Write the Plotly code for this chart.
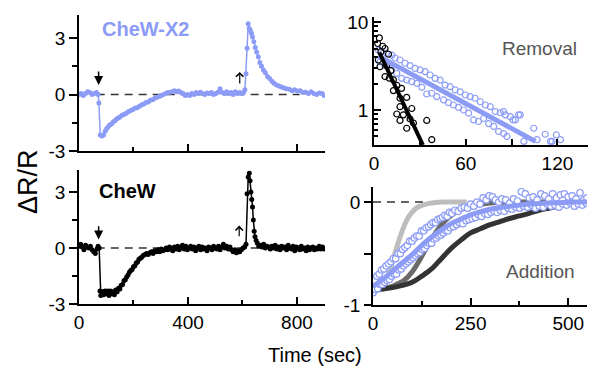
import plotly.graph_objects as go

# ---------------- data ----------------
# CheW-X2 trace (top-left)
x2_t = [0,8,16,24,32,40,48,56,64,70,73,78,84,90,96,102,108,114,120,126,132,138,144,150,158,166,174,182,190,198,
        206,214,222,230,238,246,254,262,270,278,286,294,302,310,318,326,334,342,350,358,366,374,382,390,398,
        406,414,422,430,438,446,454,462,470,478,486,494,502,510,518,526,534,542,550,558,566,574,582,590,598,
        604,609,613,617,621,625,629,633,637,642,647,652,658,664,670,677,684,692,700,708,716,725,734,743,752,
        762,772,782,792,802,812,822,832,842,852,862,872,882,892,900]
x2_v = [0.0,0.05,-0.05,0.05,0.15,0.1,0.0,0.05,0.1,0.0,-0.45,-2.15,-2.2,-2.15,-1.95,-1.8,-1.7,-1.6,-1.55,-1.45,-1.4,-1.3,-1.25,-1.2,-1.1,-1.05,-1.0,-0.9,-0.85,-0.8,
        -0.72,-0.7,-0.62,-0.55,-0.5,-0.42,-0.4,-0.3,-0.28,-0.2,-0.15,-0.1,-0.05,0.0,0.05,0.1,0.12,0.15,0.2,0.15,0.18,0.1,0.05,-0.05,0.0,
        -0.05,0.05,0.0,0.1,0.05,0.12,0.05,0.0,0.08,0.05,0.1,0.0,0.05,0.12,0.3,0.1,0.05,0.15,0.05,0.1,0.0,0.15,0.05,0.1,0.05,
        0.1,0.25,1.1,2.45,3.75,3.5,3.4,3.25,3.05,2.8,2.5,2.25,2.0,1.7,1.5,1.3,1.15,0.95,0.85,0.7,0.6,0.5,0.45,0.4,0.35,
        0.3,0.28,0.2,0.25,0.18,0.2,0.1,0.12,0.05,0.15,0.05,0.0,0.08,0.05,-0.05]

# CheW trace (bottom-left)
w_t = [0,6,12,18,24,30,36,42,48,54,60,66,70,74,77,80,85,90,95,100,105,110,115,120,125,130,135,140,145,150,
       155,160,165,170,175,180,185,190,195,200,205,210,215,220,225,230,236,242,248,254,260,266,272,278,284,290,
       296,302,308,314,320,326,332,338,344,350,356,362,368,374,380,386,392,398,404,410,416,422,428,434,440,446,
       452,458,464,470,476,482,488,494,500,506,512,518,524,530,536,542,548,554,560,566,572,578,584,590,596,602,
       608,613,617,621,625,628,631,634,637,640,643,646,650,655,660,666,672,678,684,690,696,702,708,714,720,726,
       732,738,744,750,756,762,768,774,780,786,792,798,804,810,816,822,828,834,840,846,852,858,864,870,876,882,
       888,894,900]
w_v = [0.1,0.2,0.05,-0.1,0.15,0.05,0.0,0.1,-0.1,-0.2,-0.3,-0.05,0.1,0.0,-2.3,-2.55,-2.35,-2.5,-2.3,-2.45,-2.3,-2.55,-2.3,-2.45,-2.35,-2.5,-2.25,-2.35,-2.15,-2.2,
       -2.0,-1.95,-1.75,-1.7,-1.55,-1.45,-1.3,-1.2,-1.15,-1.0,-0.95,-0.8,-0.75,-0.6,-0.55,-0.5,-0.4,-0.35,-0.3,-0.35,-0.25,-0.2,-0.3,-0.15,-0.2,-0.1,
       -0.2,-0.05,-0.15,-0.1,0.0,-0.1,0.05,-0.05,-0.15,0.05,-0.05,0.1,-0.1,0.05,0.15,-0.05,0.1,-0.1,0.0,0.1,-0.05,0.05,-0.15,0.0,0.1,-0.1,
       0.05,-0.05,0.0,-0.15,0.05,0.0,-0.1,0.1,0.0,-0.05,0.1,-0.1,0.05,0.2,0.0,0.1,-0.05,0.05,-0.1,-0.2,-0.1,-0.25,-0.15,-0.2,-0.1,0.0,
       0.05,0.2,2.9,3.8,4.0,3.6,3.0,2.6,2.2,1.5,0.9,0.6,0.4,0.25,0.1,0.15,0.05,0.2,0.0,0.1,0.05,-0.05,0.1,0.0,0.15,-0.05,
       0.05,-0.1,0.1,0.0,0.05,-0.1,0.15,0.0,-0.05,0.1,-0.15,0.05,0.0,-0.1,0.1,-0.05,0.0,-0.15,0.05,-0.1,0.0,0.05,-0.1,0.0,-0.05,0.1,
       -0.05,0.05,-0.05]

# Removal panel (top-right, log scale)
rem_black_t = [2.4,3.5,4.5,5.7,7.2,9.5,2.8,3.9,8.3,7.2,10,11,12.7,12.7,15,18,17,21.4,17,24.7,14.9,19.2,17,23.6,21.4,25.8,34.5,37.8]
rem_black_v = [5.7,6.6,4.6,5.3,5.0,4.3,3.7,3.1,3.2,2.4,2.3,2.8,2.2,1.66,1.9,1.76,1.36,1.39,1.09,1.04,0.9,0.88,0.76,0.79,0.62,0.71,0.76,0.46]
rem_blue_t = [2.8,5.0,8.3,11.6,13.8,17.0,20.3,23.6,26.9,30.2,33.4,36.7,40.0,43.3,46.5,49.8,53.1,56.4,59.7,62.9,66.2,69.5,72.8,76.1,79.3,82.6,85.9,89.2,92.5,95.7,
              3.9,7.2,11.6,14.9,18.1,21.4,24.7,28.0,31.3,34.5,37.8,41.1,45.5,48.7,52.0,55.3,58.6,61.9,65.1,68.4,71.7,75.0,78.3,81.5,84.8,87.0,
              84.8,91,94.6,98,104.5,112,115.4,119.3,122,106.7,116.5]
rem_blue_v = [4.8,4.6,4.4,4.2,3.9,3.7,3.4,3.2,2.97,2.85,2.73,2.5,2.29,2.19,1.92,1.84,1.69,1.61,1.48,1.42,1.36,1.24,1.14,1.09,0.96,0.93,0.88,0.84,0.77,0.88,
              3.54,3.2,2.85,2.61,2.29,2.19,2.1,2.01,1.81,1.52,1.55,1.42,1.30,1.21,1.14,1.07,1.0,0.92,0.77,0.74,0.80,0.70,0.65,0.57,0.54,0.50,
              0.96,0.77,0.88,0.44,0.62,0.53,0.44,0.52,0.46,0.46,0.44]
rem_black_fit_t = [3.5, 32]
rem_black_fit_v = [4.5, 0.4]
rem_blue_fit_t = [2.8, 105.6]
rem_blue_fit_v = [4.1, 0.44]

# Addition panel (bottom-right)
add_light_t = [0,20,40,50,60,70,80,90,100,110,120,140,160,180,200,240]
add_light_v = [-0.85,-0.82,-0.7,-0.58,-0.45,-0.33,-0.23,-0.15,-0.1,-0.06,-0.04,-0.015,-0.005,0,0,0]
add_mid_t = [0,20,40,60,80,100,120,140,160,180,200,220,250,300,350,400,450]
add_mid_v = [-0.85,-0.85,-0.83,-0.8,-0.76,-0.68,-0.56,-0.42,-0.3,-0.2,-0.13,-0.08,-0.04,-0.01,0,0,0]
add_dark_t = [0,25,50,75,100,125,150,175,200,225,250,275,300,325,350,375,400,425,450,475,500]
add_dark_v = [-0.84,-0.84,-0.83,-0.81,-0.78,-0.72,-0.65,-0.55,-0.45,-0.37,-0.30,-0.26,-0.22,-0.19,-0.16,-0.135,-0.11,-0.08,-0.06,-0.04,-0.025]
add_fit_t = [0,25,50,75,100,125,150,175,200,225,250,275,300,325,350,375,400,425,450,475,500,525,550]
add_fit_v = [-0.82,-0.75,-0.67,-0.59,-0.51,-0.42,-0.34,-0.27,-0.21,-0.165,-0.125,-0.095,-0.07,-0.055,-0.04,-0.03,-0.02,-0.015,-0.01,-0.006,-0.003,0,0]
add_up_t = [4,10,16,22,28,34,40,46,52,58,64,70,76,82,88,94,100,106,112,118,124,130,136,142,148,154,160,166,172,178,184,190,196,202,
            210,218,226,234,242,250,258,266,274,282,290,298,306,314,322,330,340,350,360,370,380,390,400,410,420,430,440,450,460,470,
            480,490,500,510,520,530,540,548]
add_up_v = [-0.76,-0.72,-0.7,-0.66,-0.65,-0.62,-0.6,-0.58,-0.55,-0.55,-0.5,-0.5,-0.46,-0.44,-0.42,-0.38,-0.38,-0.35,-0.33,-0.33,-0.28,-0.28,-0.25,-0.24,
            -0.22,-0.2,-0.2,-0.17,-0.16,-0.15,-0.13,-0.14,-0.1,-0.11,-0.08,-0.09,-0.06,-0.05,-0.06,-0.02,-0.04,0.0,-0.02,0.04,0.02,0.06,0.05,0.02,
            0.0,0.03,0.02,-0.01,0.03,0.01,0.1,0.08,0.04,0.05,0.02,0.08,0.06,0.03,0.08,0.04,0.07,0.08,0.05,0.06,0.03,0.09,0.02,0.04]
add_lo_t = [0,6,12,18,24,30,36,42,48,54,60,66,72,78,84,90,96,102,108,114,120,126,132,138,144,150,156,162,168,174,180,186,192,198,
            206,214,222,230,238,246,254,262,270,278,286,294,302,310,318,326,336,346,356,366,376,386,396,406,416,426,436,446,456,466,
            476,486,496,506,516,526,536,546]
add_lo_v = [-0.88,-0.85,-0.84,-0.8,-0.8,-0.78,-0.76,-0.75,-0.72,-0.7,-0.7,-0.66,-0.65,-0.62,-0.6,-0.58,-0.56,-0.54,-0.52,-0.5,-0.49,-0.46,-0.45,-0.42,
            -0.4,-0.4,-0.36,-0.35,-0.33,-0.32,-0.3,-0.28,-0.28,-0.25,-0.24,-0.22,-0.2,-0.21,-0.18,-0.17,-0.16,-0.15,-0.12,-0.14,-0.11,-0.12,-0.1,
            -0.09,-0.1,-0.08,-0.09,-0.06,-0.07,-0.05,-0.06,-0.04,-0.05,-0.03,-0.06,-0.04,-0.05,-0.02,-0.04,-0.03,-0.05,-0.02,-0.03,-0.01,-0.04,
            -0.02,-0.03,-0.01]

left_xticks = [0, 400, 800]
left_xticklabels = ["0", "400", "800"]
left_yticks = [-3, 0, 3]
left_yticklabels = ["-3", "0", "3"]
rem_xticks = [0, 30, 60, 90, 120]
rem_xticklabels = ["0", "", "60", "", "120"]
add_xticks = [0, 250, 500]
add_yticks = [-1, -0.5, 0]
add_yticklabels = ["-1", "", "0"]

for a, b in [(x2_t, x2_v), (w_t, w_v), (rem_black_t, rem_black_v), (rem_blue_t, rem_blue_v),
             (add_up_t, add_up_v), (add_lo_t, add_lo_v), (add_light_t, add_light_v),
             (add_mid_t, add_mid_v), (add_dark_t, add_dark_v), (add_fit_t, add_fit_v)]:
    assert len(a) == len(b), (len(a), len(b))

# ---------------- style ----------------
BLUE = "#8c9cf6"
FONT = "Arial, Liberation Sans, sans-serif"
W, H = 597, 372

def px_x(p):
    return p / W

def px_y(p):
    return 1 - p / H

fig = go.Figure()

# top-left
fig.add_trace(go.Scatter(x=[65, 810], y=[0, 0], mode="lines", xaxis="x", yaxis="y",
                         line=dict(color="#333333", width=1.5, dash="8px,6px")))
fig.add_trace(go.Scatter(x=x2_t, y=x2_v, mode="lines+markers", xaxis="x", yaxis="y",
                         line=dict(color=BLUE, width=1.5), marker=dict(color=BLUE, size=5)))
# bottom-left
fig.add_trace(go.Scatter(x=[65, 810], y=[0, 0], mode="lines", xaxis="x2", yaxis="y2",
                         line=dict(color="#333333", width=1.5, dash="8px,6px")))
fig.add_trace(go.Scatter(x=w_t, y=w_v, mode="lines+markers", xaxis="x2", yaxis="y2",
                         line=dict(color="black", width=1.5), marker=dict(color="black", size=5)))
# top-right removal
fig.add_trace(go.Scatter(x=rem_blue_t, y=rem_blue_v, mode="markers", xaxis="x3", yaxis="y3",
                         marker=dict(symbol="circle-open", color=BLUE, size=6, line=dict(width=1.2))))
fig.add_trace(go.Scatter(x=rem_black_t, y=rem_black_v, mode="markers", xaxis="x3", yaxis="y3",
                         marker=dict(symbol="circle-open", color="black", size=6, line=dict(width=1.2))))
fig.add_trace(go.Scatter(x=rem_blue_fit_t, y=rem_blue_fit_v, mode="lines", xaxis="x3", yaxis="y3",
                         line=dict(color=BLUE, width=5)))
fig.add_trace(go.Scatter(x=rem_black_fit_t, y=rem_black_fit_v, mode="lines", xaxis="x3", yaxis="y3",
                         line=dict(color="black", width=4)))
# bottom-right addition
fig.add_trace(go.Scatter(x=[0, 550], y=[0, 0], mode="lines", xaxis="x4", yaxis="y4",
                         line=dict(color="#333333", width=1.5, dash="8px,6px")))
fig.add_trace(go.Scatter(x=add_light_t, y=add_light_v, mode="lines", xaxis="x4", yaxis="y4",
                         line=dict(color="#bdbdbd", width=5, shape="spline")))
fig.add_trace(go.Scatter(x=add_mid_t, y=add_mid_v, mode="lines", xaxis="x4", yaxis="y4",
                         line=dict(color="#6a6a6a", width=5, shape="spline")))
fig.add_trace(go.Scatter(x=add_dark_t, y=add_dark_v, mode="lines", xaxis="x4", yaxis="y4",
                         line=dict(color="#333333", width=5, shape="spline")))
fig.add_trace(go.Scatter(x=add_lo_t + add_up_t, y=add_lo_v + add_up_v, mode="markers", xaxis="x4", yaxis="y4",
                         marker=dict(symbol="circle", color="white", size=6.5, line=dict(color=BLUE, width=1.2))))
fig.add_trace(go.Scatter(x=add_fit_t, y=add_fit_v, mode="lines", xaxis="x4", yaxis="y4",
                         line=dict(color=BLUE, width=5, shape="spline")))

axis_common = dict(showline=True, linecolor="black", linewidth=1.5, showgrid=False, zeroline=False,
                   automargin=False,
                   tickcolor="black", tickwidth=1.5, tickfont=dict(family=FONT, size=19, color="black"))

fig.update_layout(
    width=W, height=H, margin=dict(l=0, r=0, t=0, b=0, autoexpand=False),
    paper_bgcolor="white", plot_bgcolor="white", showlegend=False,
    xaxis=dict(axis_common, domain=[px_x(79), px_x(325)], range=[0, 903], anchor="y",
               tickmode="array", tickvals=left_xticks, showticklabels=False, ticks="inside", ticklen=7,
               minor=dict(tickmode="array", tickvals=[200, 600], ticks="inside", ticklen=4, tickcolor="black", tickwidth=1.5)),
    yaxis=dict(axis_common, domain=[px_y(151), px_y(15.4)], range=[-3, 4.2], anchor="x",
               tickmode="array", tickvals=left_yticks, ticktext=left_yticklabels, ticks="outside", ticklen=8,
               minor=dict(tickmode="array", tickvals=[-1.5, 1.5], ticks="outside", ticklen=5, tickcolor="black", tickwidth=1.5)),
    xaxis2=dict(axis_common, domain=[px_x(79), px_x(325)], range=[0, 903], anchor="y2",
                tickmode="array", tickvals=left_xticks, ticktext=left_xticklabels, ticks="inside", ticklen=7,
                minor=dict(tickmode="array", tickvals=[200, 600], ticks="inside", ticklen=4, tickcolor="black", tickwidth=1.5)),
    yaxis2=dict(axis_common, domain=[px_y(304), px_y(169.6)], range=[-3, 4.2], anchor="x2",
                tickmode="array", tickvals=left_yticks, ticktext=left_yticklabels, ticks="outside", ticklen=8,
                minor=dict(tickmode="array", tickvals=[-1.5, 1.5], ticks="outside", ticklen=5, tickcolor="black", tickwidth=1.5)),
    xaxis3=dict(axis_common, domain=[px_x(374), px_x(588)], range=[0, 140], anchor="y3",
                tickmode="array", tickvals=rem_xticks, ticktext=rem_xticklabels, ticks="inside", ticklen=6),
    yaxis3=dict(axis_common, type="log", domain=[px_y(145), px_y(17)], range=[-0.398, 1.057], anchor="x3",
                tickmode="array", tickvals=[1, 10], ticktext=["1", "10"], ticks="inside", ticklen=7,
                minor=dict(tickmode="array", tickvals=[0.4, 0.5, 0.6, 0.7, 0.8, 0.9, 2, 3, 4, 5, 6, 7, 8, 9],
                           ticks="inside", ticklen=4, tickcolor="black", tickwidth=1.5)),
    xaxis4=dict(axis_common, domain=[px_x(373), px_x(587)], range=[0, 548], anchor="y4",
                tickmode="array", tickvals=add_xticks, ticks="inside", ticklen=7,
                minor=dict(tickmode="array", tickvals=[125, 375], ticks="inside", ticklen=4, tickcolor="black", tickwidth=1.5)),
    yaxis4=dict(axis_common, domain=[px_y(305), px_y(187)], range=[-1, 0.146], anchor="x4",
                tickmode="array", tickvals=add_yticks, ticktext=add_yticklabels, ticks="outside", ticklen=7),
)

ann = []
def label(text, x, y, size, color, angle=0):
    return dict(text=text, x=px_x(x), y=px_y(y), xref="paper", yref="paper", showarrow=False,
                xanchor="center", yanchor="middle", textangle=angle,
                font=dict(family=FONT, size=size, color=color))

ann.append(label("<b>CheW-X2</b>", 145, 29, 20, BLUE))
ann.append(label("<b>CheW</b>", 127.5, 191, 20, "black"))
ann.append(label("Removal", 539, 48, 19, "#555555"))
ann.append(label("Addition", 540, 271, 19, "#555555"))
ann.append(label("ΔR/R", 28, 182, 27, "black", -90))
ann.append(label("Time (sec)", 315, 355, 20, "black"))
# arrows
ann.append(dict(x=72, y=0.5, ax=72, ay=1.3, xref="x", yref="y", axref="x", ayref="y", text="", showarrow=True,
                arrowhead=2, arrowsize=1.2, arrowwidth=1.5, arrowcolor="black"))
ann.append(dict(x=590, y=1.2, ax=590, ay=0.5, xref="x", yref="y", axref="x", ayref="y", text="", showarrow=True,
                arrowhead=4, arrowsize=1.2, arrowwidth=1.2, arrowcolor="black"))
ann.append(dict(x=72, y=0.45, ax=72, ay=1.25, xref="x2", yref="y2", axref="x2", ayref="y2", text="", showarrow=True,
                arrowhead=2, arrowsize=1.2, arrowwidth=1.5, arrowcolor="black"))
ann.append(dict(x=588, y=1.2, ax=588, ay=0.55, xref="x2", yref="y2", axref="x2", ayref="y2", text="", showarrow=True,
                arrowhead=4, arrowsize=1.2, arrowwidth=1.2, arrowcolor="black"))
fig.update_layout(annotations=ann)

fig.write_html("out.html", config={"displayModeBar": False},
               post_script="document.body.style.margin='0px';document.body.style.padding='0px';")
